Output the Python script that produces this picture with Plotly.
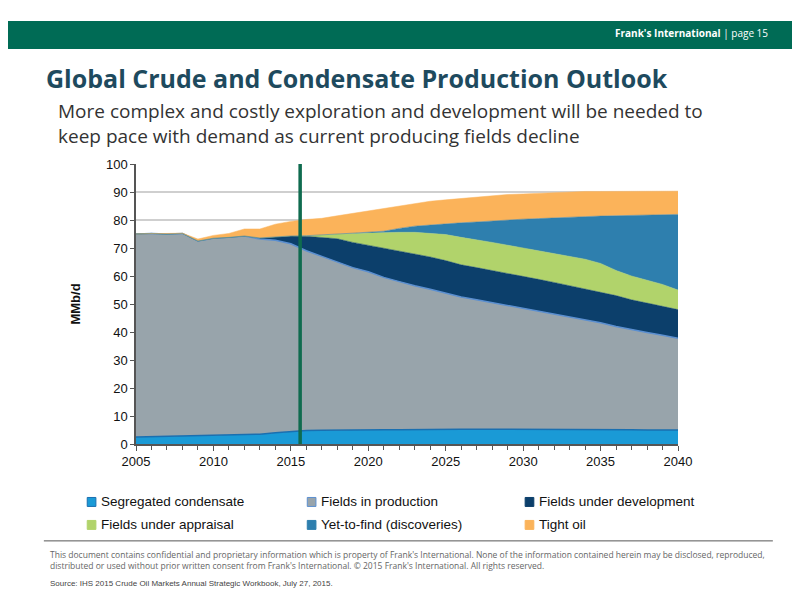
import plotly.graph_objects as go

years = list(range(2005, 2041))

# top of each stacked layer (cumulative MMb/d)
condensate_top = [2.5, 2.6, 2.7, 2.8, 2.9, 3.2, 3.3, 3.4, 3.5, 4.0, 4.5, 4.8, 4.9, 5.0, 5.0, 5.0, 5.1, 5.1, 5.2, 5.2,
                  5.3, 5.3, 5.3, 5.3, 5.2, 5.2, 5.2, 5.2, 5.2, 5.1, 5.1, 5.1, 5.1, 5.0, 5.0, 5.0]
production_top = [75.0, 75.2, 75.0, 75.2, 72.5, 73.5, 73.8, 74.3, 73.2, 72.8, 71.5, 69.0, 67.0, 65.0, 63.0, 61.5,
                  59.5, 58.0, 56.5, 55.3, 54.0, 52.5, 51.5, 50.5, 49.5, 48.5, 47.3, 46.3, 45.3, 44.3, 43.3, 42.0,
                  40.8, 39.8, 38.8, 37.8]
development_top = [75.0, 75.2, 75.0, 75.2, 72.5, 73.5, 73.8, 74.3, 73.6, 74.0, 74.3, 74.2, 73.8, 73.3, 72.0, 71.0,
                   70.0, 69.0, 68.0, 66.8, 65.5, 64.0, 63.0, 62.0, 61.0, 60.0, 58.8, 57.7, 56.5, 55.3, 54.3, 53.0,
                   51.5, 50.3, 49.0, 48.0]
appraisal_top = [75.0, 75.2, 75.0, 75.2, 72.5, 73.5, 73.8, 74.3, 73.6, 74.0, 74.3, 74.4, 74.8, 75.0, 75.2, 75.4,
                 75.5, 75.6, 75.6, 75.3, 74.8, 73.8, 73.0, 72.0, 71.0, 70.0, 69.0, 68.0, 67.0, 66.0, 64.5, 62.0,
                 60.0, 58.5, 57.0, 55.0]
ytf_top = [75.0, 75.2, 75.0, 75.2, 72.5, 73.5, 73.8, 74.3, 73.6, 74.0, 74.3, 74.4, 74.8, 75.0, 75.3, 75.6,
           76.0, 77.0, 77.8, 78.2, 78.7, 79.0, 79.3, 79.7, 80.0, 80.3, 80.5, 80.8, 81.0, 81.2, 81.4, 81.5,
           81.7, 81.8, 81.9, 82.0]
tight_top = [75.0, 75.2, 75.2, 75.3, 73.2, 74.5, 75.2, 76.8, 76.8, 78.5, 79.5, 80.2, 80.6, 81.5, 82.4, 83.3,
             84.0, 85.0, 86.0, 86.7, 87.2, 87.7, 88.3, 88.7, 89.1, 89.3, 89.5, 89.9, 90.1, 90.2, 90.2, 90.2,
             90.3, 90.3, 90.3, 90.3]

layers = [
    ("Segregated condensate", condensate_top, "#1a9ad6", "#1a6fb0"),
    ("Fields in production", production_top, "#98a4ab", "#5b8fd0"),
    ("Fields under development", development_top, "#0c3f6b", "#0c3f6b"),
    ("Fields under appraisal", appraisal_top, "#b1d36b", "#b1d36b"),
    ("Yet-to-find (discoveries)", ytf_top, "#2e7fae", "#2e7fae"),
    ("Tight oil", tight_top, "#fbb35a", "#fbb35a"),
]

fig = go.Figure()
for i, (name, top, fill, edge) in enumerate(layers):
    fig.add_trace(go.Scatter(
        x=years, y=top, name=name, mode="lines", showlegend=False,
        line=dict(color=edge, width=1.5 if i < 2 else 0.5),
        fill="tozeroy" if i == 0 else "tonexty", fillcolor=fill,
    ))

fig.add_shape(type="line", x0=2015.6, x1=2015.6, y0=0, y1=100, xref="x", yref="y",
              line=dict(color="#0f6b4f", width=3.5))

fig.update_xaxes(range=[2005, 2040], tickvals=list(range(2005, 2041, 5)), showgrid=False,
                 showline=True, linecolor="#555", linewidth=1.5, ticks="outside", ticklen=5,
                 tickcolor="#555", minor=dict(dtick=1, ticks="outside", ticklen=4, tickcolor="#555"),
                 tickfont=dict(family="Liberation Sans", size=13, color="#111"))
fig.update_yaxes(range=[0, 100], dtick=10, showgrid=True, gridcolor="#cfcfcf", gridwidth=2,
                 showline=True, linecolor="#555", linewidth=1.5, ticks="outside", ticklen=4,
                 tickcolor="#555", zeroline=False,
                 tickfont=dict(family="Liberation Sans", size=13, color="#111"),
                 title=dict(text="<b>MMb/d</b>", standoff=22,
                            font=dict(family="Liberation Sans", size=13, color="#111")))

fig.update_layout(
    width=800, height=600, plot_bgcolor="white", paper_bgcolor="white",
    margin=dict(l=128, r=130, t=156, b=164, autoexpand=False),
)

# legend drawn as squares + labels in three columns
leg_x = [-0.09, 0.316, 0.718]
leg_y = [-0.207, -0.289]
for i, (name, top, fill, edge) in enumerate(layers):
    x0 = leg_x[i % 3]
    y0 = leg_y[i // 3]
    fig.add_shape(type="rect", xref="paper", yref="paper", x0=x0, x1=x0 + 0.016, y0=y0 - 0.016, y1=y0 + 0.016,
                  fillcolor=fill, line=dict(color=edge, width=1))
    fig.add_annotation(xref="paper", yref="paper", x=x0 + 0.022, y=y0, text=name, showarrow=False,
                       xanchor="left", yanchor="middle",
                       font=dict(family="Liberation Sans", size=13.5, color="#111"))

# slide decoration
fig.add_shape(type="rect", xref="paper", yref="paper", x0=-0.24, x1=1.25, y0=1.411, y1=1.511,
              fillcolor="#006b55", line_width=0, layer="below")
fig.add_shape(type="line", xref="paper", yref="paper", x0=-0.17, x1=1.175, y0=-0.346, y1=-0.346,
              line=dict(color="#555", width=1))

ann = [
    dict(x=1.17, y=1.468, text="<b>Frank's International</b> | page 15", xanchor="right", yanchor="middle",
         font=dict(family="Open Sans", size=10, color="white")),
    dict(x=-0.17, y=1.307, text="<b>Global Crude and Condensate Production Outlook</b>", xanchor="left",
         yanchor="middle", font=dict(family="Open Sans", size=25, color="#1e4a5e")),
    dict(x=-0.148, y=1.143, text="More complex and costly exploration and development will be needed to<br>"
         "keep pace with demand as current producing fields decline", xanchor="left", yanchor="middle",
         align="left", font=dict(family="Open Sans", size=19, color="#333")),
    dict(x=-0.162, y=-0.368, text="This document contains confidential and proprietary information which is property of "
         "Frank's International. None of the information contained herein may be disclosed, reproduced,<br>"
         "distributed or used without prior written consent from Frank's International. © 2015 Frank's "
         "International. All rights reserved.", xanchor="left", yanchor="top", align="left",
         font=dict(family="Open Sans", size=8.5, color="#666")),
    dict(x=-0.162, y=-0.476, text="Source: IHS 2015 Crude Oil Markets Annual Strategic Workbook, July 27, 2015.",
         xanchor="left", yanchor="top", font=dict(family="Liberation Sans", size=8, color="#444")),
]
for a in ann:
    fig.add_annotation(xref="paper", yref="paper", showarrow=False, **a)

fig.write_html("out.html")
